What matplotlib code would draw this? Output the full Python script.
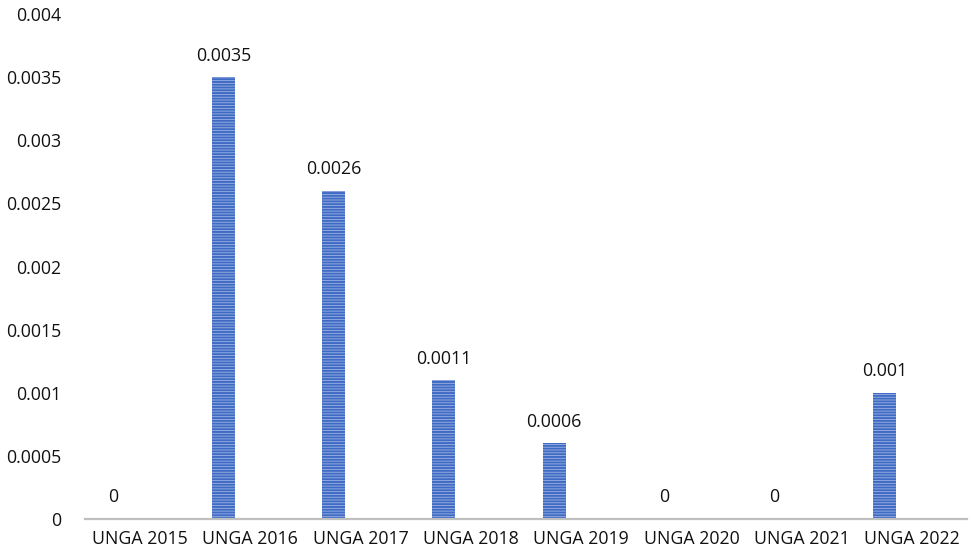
import matplotlib
matplotlib.use("Agg")
import numpy as np
from matplotlib import pyplot as plt

categories = ["UNGA 2015", "UNGA 2016", "UNGA 2017", "UNGA 2018",
              "UNGA 2019", "UNGA 2020", "UNGA 2021", "UNGA 2022"]
values = [0, 0.0035, 0.0026, 0.0011, 0.0006, 0, 0, 0.001]
value_labels = ["0", "0.0035", "0.0026", "0.0011", "0.0006", "0", "0", "0.001"]
yticks = [0, 0.0005, 0.001, 0.0015, 0.002, 0.0025, 0.003, 0.0035, 0.004]
ytick_labels = ["0", "0.0005", "0.001", "0.0015", "0.002", "0.0025", "0.003", "0.0035", "0.004"]

INK = "#111111"
plt.rcParams["font.family"] = ["Open Sans", "DejaVu Sans"]
plt.rcParams["hatch.linewidth"] = 1.4

fig = plt.figure(figsize=(9.72, 5.57), dpi=100)
ax = fig.add_axes([85 / 972, 1 - 519 / 557, 882 / 972, 505 / 557])

# bars sit left of the category centre (second, empty series in the source)
x = np.arange(len(categories))
bx = x - 0.245
bars = ax.bar(bx, values, width=0.21, color="#9db3e3", edgecolor="#3f6bc4",
              hatch="------", linewidth=0, zorder=2)

for xi, v, lab in zip(bx, values, value_labels):
    ax.annotate(lab, (xi, v), xytext=(0, 9), textcoords="offset points",
                ha="center", va="bottom", fontsize=12.8, color=INK)

ax.set_xlim(-0.5, 7.5)
ax.set_ylim(0, 0.004)
ax.set_xticks(x)
ax.set_xticklabels(categories, fontsize=12.8, color=INK)
ax.set_yticks(yticks)
ax.set_yticklabels(ytick_labels, fontsize=12.8, color=INK)
ax.tick_params(axis="x", length=0, pad=8)
ax.tick_params(axis="y", length=0, pad=17)

for side in ("top", "right", "left"):
    ax.spines[side].set_visible(False)
ax.spines["bottom"].set_color("#bfbfbf")
ax.spines["bottom"].set_linewidth(1.6)

fig.savefig("out.png", facecolor="white")
